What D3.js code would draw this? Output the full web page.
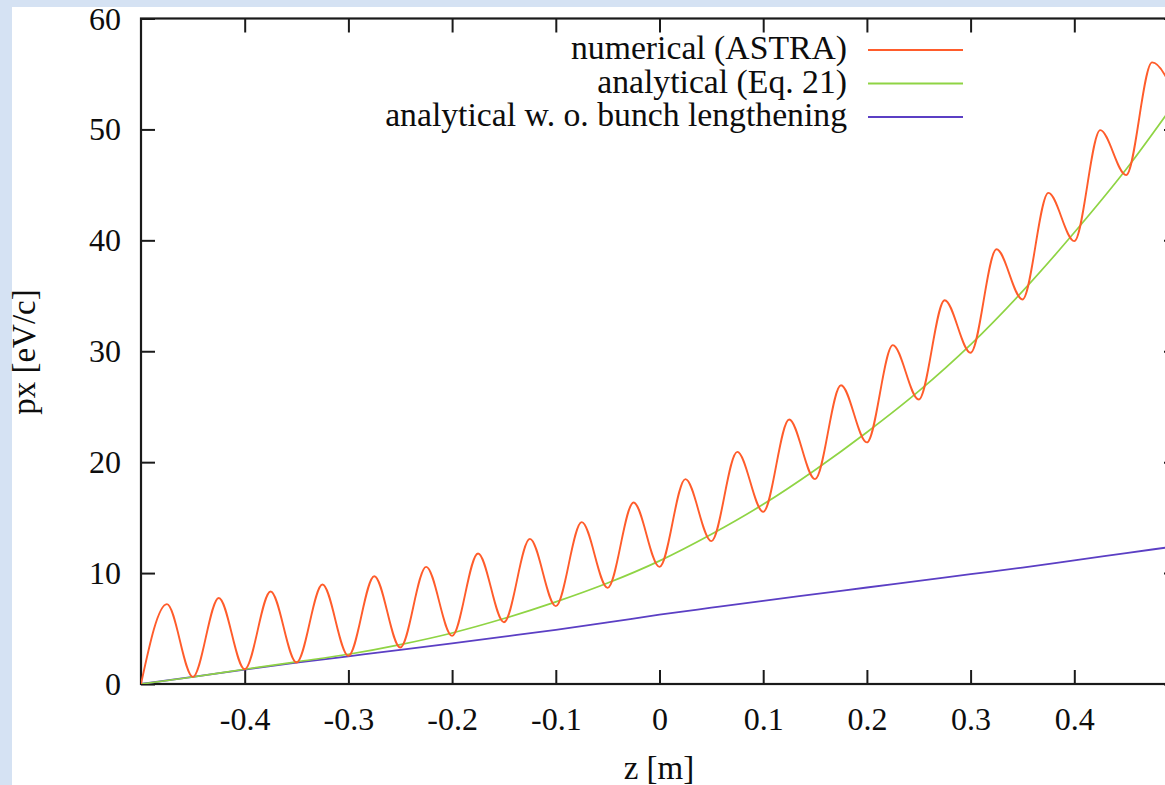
<!DOCTYPE html>
<html>
<head>
<meta charset="utf-8">
<script src="https://cdn.jsdelivr.net/npm/d3@7"></script>
<style>
  html, body { margin: 0; padding: 0; background: #d5e2f3; overflow: hidden; }
  svg { display: block; }
  text { font-family: "Liberation Serif", "Times New Roman", serif; fill: #0d0d0d; }
</style>
</head>
<body>
<svg id="chart" width="1165" height="785"></svg>
<script>
// Longitudinal position grid for the smooth analytical curves [m]
const zSmooth = [-0.50, -0.45, -0.40, -0.35, -0.30, -0.25, -0.20, -0.15, -0.10, -0.05,
                 0.00, 0.05, 0.10, 0.15, 0.20, 0.25, 0.30, 0.35, 0.40, 0.45, 0.50];

// analytical (Eq. 21) px [eV/c]
const pxAnalytical = [0, 0.63, 1.33, 2.0, 2.68, 3.55, 4.6, 5.9, 7.4, 9.1,
                      11.1, 13.5, 16.2, 19.3, 22.7, 26.4, 30.6, 35.4, 40.7, 46.4, 52.8];

// analytical without bunch lengthening px [eV/c]
const pxNoLengthening = [0, 0.64, 1.3, 1.92, 2.5, 3.08, 3.67, 4.27, 4.88, 5.55,
                         6.25, 6.88, 7.5, 8.1, 8.7, 9.3, 9.9, 10.5, 11.15, 11.8, 12.45];

// numerical (ASTRA): turning points of the oscillation (troughs and peaks)
const zNumerical = [-0.500, -0.475, -0.450, -0.425, -0.400, -0.375, -0.350, -0.325, -0.300, -0.275,
                    -0.250, -0.225, -0.200, -0.175, -0.150, -0.125, -0.100, -0.075, -0.050, -0.025,
                    0.000, 0.025, 0.050, 0.075, 0.100, 0.125, 0.150, 0.175, 0.200, 0.225,
                    0.250, 0.275, 0.300, 0.325, 0.350, 0.375, 0.400, 0.425, 0.450, 0.475, 0.500];
const pxNumerical = [0, 7.2, 0.64, 7.76, 1.33, 8.34, 1.94, 8.97, 2.54, 9.72,
                     3.29, 10.56, 4.34, 11.77, 5.57, 13.08, 7.02, 14.59, 8.67, 16.37,
                     10.56, 18.47, 12.88, 20.93, 15.52, 23.85, 18.47, 26.94, 21.78, 30.55,
                     25.65, 34.6, 29.86, 39.2, 34.67, 44.28, 39.93, 49.94, 45.88, 56.04, 52.3];

const xTickValues = [-0.4, -0.3, -0.2, -0.1, 0, 0.1, 0.2, 0.3, 0.4];
const yTickValues = [0, 10, 20, 30, 40, 50, 60];

const seriesNames = ["numerical (ASTRA)", "analytical (Eq. 21)", "analytical w. o. bunch lengthening"];
const seriesColors = ["#ff5c2b", "#8fd444", "#5b3fc4"];

const svg = d3.select("#chart");
const W = 1165, H = 785;

// white page area
svg.append("rect").attr("x", 12).attr("y", 7).attr("width", W - 12).attr("height", H - 7).attr("fill", "#ffffff");

const plotLeft = 141, plotRight = 1178, plotTop = 18.5, plotBottom = 684;
const x = d3.scaleLinear().domain([-0.5, 0.5]).range([plotLeft, plotRight]);
const y = d3.scaleLinear().domain([0, 60]).range([plotBottom, plotTop]);

svg.append("clipPath").attr("id", "plotClip")
  .append("rect").attr("x", plotLeft).attr("y", plotTop)
  .attr("width", plotRight - plotLeft).attr("height", plotBottom - plotTop);

const tickLen = 14;
const axisColor = "#1a1a1a";

function styleAxis(g) {
  g.select(".domain").remove();
  g.selectAll(".tick line").attr("stroke", axisColor).attr("stroke-width", 2);
  g.selectAll(".tick text").style("font-size", "32px").attr("fill", "#0d0d0d");
}

// bottom axis with labels (plain hyphen for negatives)
const gx = svg.append("g").attr("transform", `translate(0,${plotBottom})`)
  .call(d3.axisBottom(x).tickValues(xTickValues).tickSizeInner(-tickLen).tickSizeOuter(0)
    .tickFormat(d => String(d)));
styleAxis(gx);
gx.selectAll(".tick text").attr("y", 46).attr("dy", null);

// top mirrored ticks
const gxt = svg.append("g").attr("transform", `translate(0,${plotTop})`)
  .call(d3.axisTop(x).tickValues(xTickValues).tickSizeInner(-tickLen).tickSizeOuter(0).tickFormat(""));
styleAxis(gxt);

// left axis with labels
const gy = svg.append("g").attr("transform", `translate(${plotLeft},0)`)
  .call(d3.axisLeft(y).tickValues(yTickValues).tickSizeInner(-tickLen).tickSizeOuter(0).tickPadding(20));
styleAxis(gy);
gy.selectAll(".tick text").attr("dy", "0.33em");

// right mirrored ticks
const gyr = svg.append("g").attr("transform", `translate(${plotRight},0)`)
  .call(d3.axisRight(y).tickValues(yTickValues).tickSizeInner(-tickLen).tickSizeOuter(0).tickFormat(""));
styleAxis(gyr);

// frame
svg.append("rect").attr("x", plotLeft).attr("y", plotTop)
  .attr("width", plotRight - plotLeft).attr("height", plotBottom - plotTop)
  .attr("fill", "none").attr("stroke", axisColor).attr("stroke-width", 2.2);

// curves
const plot = svg.append("g").attr("clip-path", "url(#plotClip)");

const smoothLine = d3.line().x(d => x(d[0])).y(d => y(d[1])).curve(d3.curveMonotoneX);

plot.append("path")
  .datum(zSmooth.map((z, i) => [z, pxNoLengthening[i]]))
  .attr("fill", "none").attr("stroke", seriesColors[2]).attr("stroke-width", 1.8)
  .attr("d", smoothLine);

plot.append("path")
  .datum(zSmooth.map((z, i) => [z, pxAnalytical[i]]))
  .attr("fill", "none").attr("stroke", seriesColors[1]).attr("stroke-width", 1.7)
  .attr("d", smoothLine);

plot.append("path")
  .datum(zNumerical.map((z, i) => [z, pxNumerical[i]]))
  .attr("fill", "none").attr("stroke", seriesColors[0]).attr("stroke-width", 1.9)
  .attr("d", smoothLine);

// legend
const legend = svg.append("g");
const legendRowY = [50, 83.5, 117];
seriesNames.forEach((name, i) => {
  legend.append("text").attr("x", 847).attr("y", legendRowY[i] + 9)
    .attr("text-anchor", "end").style("font-size", "33.7px").text(name);
  legend.append("line").attr("x1", 868).attr("x2", 963)
    .attr("y1", legendRowY[i]).attr("y2", legendRowY[i])
    .attr("stroke", seriesColors[i]).attr("stroke-width", 2);
});

// axis titles
svg.append("text").attr("x", 659).attr("y", 779).attr("text-anchor", "middle")
  .style("font-size", "33px").text("z [m]");
svg.append("text").attr("transform", "translate(35,352) rotate(-90)").attr("text-anchor", "middle")
  .style("font-size", "33px").text("px [eV/c]");
</script>
</body>
</html>
